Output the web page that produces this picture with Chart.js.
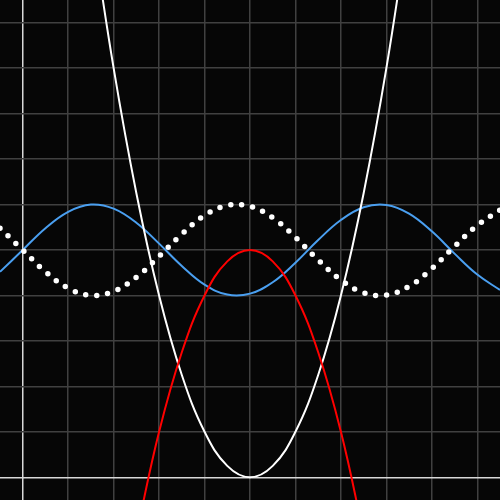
<!DOCTYPE html>
<html>
<head>
<meta charset="utf-8">
<script src="https://cdn.jsdelivr.net/npm/chart.js@4/dist/chart.umd.min.js"></script>
<style>
  html, body { margin: 0; padding: 0; background: #060606; }
  #wrap { width: 500px; height: 500px; }
</style>
</head>
<body>
<div id="wrap"><canvas id="c" width="500" height="500"></canvas></div>
<script>
// x samples for the wave curves
const waveX = [-0.5, 0, 0.5, 1, 1.5, 2, 2.5, 3, 3.5, 4, 4.5, 5, 5.5, 6, 6.5, 7, 7.5, 8, 8.5, 9, 9.5, 10, 10.5];
// blue solid wave
const blueY = [4.52, 5, 5.48, 5.84, 6.00, 5.91, 5.60, 5.14, 4.65, 4.24, 4.02, 4.04, 4.29, 4.72, 5.22, 5.66, 5.94, 5.99, 5.80, 5.41, 4.92, 4.46, 4.12];
// white dotted wave
const dottedY = [5.48, 5, 4.52, 4.16, 4.00, 4.09, 4.40, 4.86, 5.35, 5.76, 5.98, 5.96, 5.71, 5.28, 4.78, 4.34, 4.06, 4.01, 4.20, 4.59, 5.08, 5.54, 5.88];
// white upward parabola
const upX = [1.5, 2, 2.5, 3, 3.5, 4, 4.5, 5, 5.5, 6, 6.5, 7, 7.5, 8, 8.5];
const upY = [12.25, 9, 6.25, 4, 2.25, 1, 0.25, 0, 0.25, 1, 2.25, 4, 6.25, 9, 12.25];
// red downward parabola
const downX = [2.5, 3, 3.5, 4, 4.5, 5, 5.5, 6, 6.5, 7, 7.5];
const downY = [-1.25, 1, 2.75, 4, 4.75, 5, 4.75, 4, 2.75, 1, -1.25];
// axis range and grid tick values
const axisMin = -0.5, axisMax = 10.5;
const gridTicks = [0, 1, 2, 3, 4, 5, 6, 7, 8, 9, 10];

const pts = (xs, ys) => xs.map((x, i) => ({ x: x, y: ys[i] }));

const gridColor = (ctx) => (ctx.tick && ctx.tick.value === 0) ? '#d8d8d8' : '#404040';

const axis = {
  type: 'linear',
  min: axisMin,
  max: axisMax,
  afterBuildTicks: (scale) => { scale.ticks = gridTicks.map(v => ({ value: v })); },
  ticks: { display: false },
  grid: { color: gridColor, lineWidth: 1.5, drawTicks: false },
  border: { display: false }
};

new Chart(document.getElementById('c'), {
  type: 'scatter',
  data: {
    datasets: [
      { data: pts(downX, downY), showLine: true, borderColor: '#ff0000', borderWidth: 2, pointRadius: 0, tension: 0.4 },
      { data: pts(upX, upY), showLine: true, borderColor: '#ffffff', borderWidth: 2, pointRadius: 0, tension: 0.4 },
      { data: pts(waveX, dottedY), showLine: true, borderColor: '#ffffff', borderWidth: 5.5, borderDash: [0, 11], borderCapStyle: 'round', pointRadius: 0, tension: 0.4 },
      { data: pts(waveX, blueY), showLine: true, borderColor: '#4a9ff0', borderWidth: 2, pointRadius: 0, tension: 0.4 }
    ]
  },
  options: {
    responsive: false,
    animation: false,
    layout: { padding: 0 },
    plugins: { legend: { display: false }, tooltip: { enabled: false } },
    scales: { x: axis, y: axis }
  }
});
</script>
</body>
</html>
